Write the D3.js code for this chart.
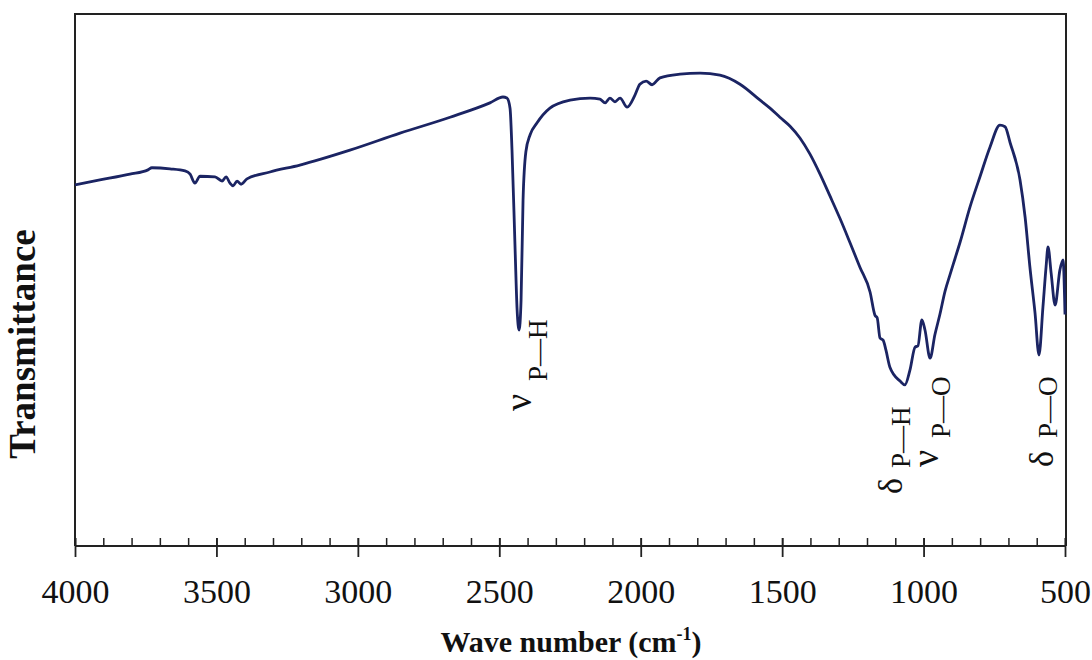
<!DOCTYPE html>
<html>
<head>
<meta charset="utf-8">
<script src="https://cdn.jsdelivr.net/npm/d3@7"></script>
<style>
  html, body { margin: 0; padding: 0; background: #fff; }
  svg { display: block; }
</style>
</head>
<body>
<svg id="chart" width="1092" height="660"></svg>
<script>
// ---- data (wavenumber cm-1, transmittance in arbitrary %) ----
const wavenumbers = [
  4000, 3912, 3806, 3742, 3728, 3664, 3611, 3593, 3576, 3558, 3505, 3480, 3466, 3452, 3441, 3427, 3413, 3392,
  3311, 3205, 3028, 2851, 2674, 2533, 2487, 2473, 2462, 2455, 2444, 2437, 2430, 2423, 2416, 2406, 2391, 2367,
  2321, 2250, 2179, 2144, 2126, 2109, 2091, 2073, 2048, 2020, 2003, 1981, 1960, 1932, 1861, 1790, 1720, 1649,
  1578, 1543, 1508, 1472, 1437, 1402, 1366, 1331, 1295, 1260, 1225, 1189, 1172, 1164, 1154, 1143, 1133, 1119, 1083, 1066,
  1048, 1030, 1020, 1006, 995, 977, 960, 942, 924, 907, 889, 871, 836, 800, 765, 730, 712, 694, 659, 641, 624, 606,
  592, 578, 567, 560, 549, 535, 518, 507, 500
];
const transmittance = [
  67.9, 68.8, 69.9, 70.7, 71.1, 70.9, 70.5, 69.9, 68.2, 69.5, 69.4, 68.6, 69.4, 68.2, 67.7, 68.6, 68.0, 69.0,
  70.3, 71.6, 74.4, 77.6, 80.6, 83.3, 84.4, 84.2, 82.3, 74.4, 55.6, 44.4, 40.6, 46.2, 65.0, 74.1, 77.3, 79.5,
  82.3, 83.8, 84.2, 84.0, 83.3, 84.2, 83.5, 84.2, 82.5, 84.8, 86.8, 87.4, 86.7, 88.0, 88.7, 88.9, 88.5, 86.8,
  83.8, 82.3, 80.6, 78.9, 76.7, 73.7, 69.9, 65.8, 61.5, 57.0, 52.4, 47.7, 43.4, 42.9, 39.1, 38.7, 36.8, 33.6, 31.0, 30.3,
  33.1, 37.4, 37.6, 42.5, 40.6, 35.3, 39.7, 43.6, 47.9, 50.9, 54.0, 57.1, 63.7, 69.5, 75.0, 79.1, 78.8, 75.8, 68.8, 61.8, 52.4, 43.8,
  35.9, 44.9, 52.4, 56.2, 51.3, 45.3, 51.9, 53.8, 43.5
];
const majorTicks = [4000, 3500, 3000, 2500, 2000, 1500, 1000, 500];
const minorTicks = d3.range(500, 4001, 100);

// band annotations: glyph, subscript, peak wavenumber
const bandGlyphs = ["ν", "δ", "ν", "δ"];
const bandSubs = ["P—H", "P—H", "P—O", "P—O"];
const bandPeaks = [2430, 1066, 977, 592];

// ---- layout ----
const mLeft = 75, mRight = 1065, mTop = 14, mBottom = 546;
const svg = d3.select("#chart");
const x = d3.scaleLinear().domain([4000, 500]).range([mLeft, mRight]);
const y = d3.scaleLinear().domain([0, 100]).range([mBottom, mTop]);
const serif = "'Liberation Serif', 'Times New Roman', serif";
const ink = "#222";

// frame (left, top, right)
svg.append("path")
  .attr("d", `M${mLeft},${mBottom} V${mTop} H${mRight + 1} V${mBottom}`)
  .attr("fill", "none").attr("stroke", ink).attr("stroke-width", 2);

// minor ticks (above axis)
const minorAxis = d3.axisTop(x).tickValues(minorTicks).tickSize(8).tickFormat("");
const gMinor = svg.append("g").attr("transform", `translate(0,${mBottom})`).call(minorAxis);
gMinor.select(".domain").remove();
gMinor.selectAll("line").attr("stroke", ink).attr("stroke-width", 1.5);

// major axis
const majorAxis = d3.axisBottom(x).tickValues(majorTicks).tickSize(10).tickFormat(d3.format("d"));
const gAxis = svg.append("g").attr("transform", `translate(0,${mBottom})`).call(majorAxis);
gAxis.select(".domain").attr("stroke", ink).attr("stroke-width", 2).attr("d", `M${mLeft},0H${mRight + 1}`);
gAxis.selectAll(".tick line").attr("stroke", ink).attr("stroke-width", 1.8).attr("y1", -8).attr("y2", 11);
gAxis.selectAll(".tick text")
  .attr("y", 57).attr("dy", 0)
  .attr("font-family", serif).attr("font-size", 34).attr("fill", "#111");

// spectrum line
const pts = wavenumbers.map((w, i) => [w, transmittance[i]]);
const line = d3.line().x(d => x(d[0])).y(d => y(d[1])).curve(d3.curveMonotoneX);
svg.append("path").datum(pts)
  .attr("d", line)
  .attr("fill", "none")
  .attr("stroke", "#1b2463")
  .attr("stroke-width", 2.8)
  .attr("stroke-linejoin", "round");

// axis titles
const xt = svg.append("text")
  .attr("x", (mLeft + mRight) / 2 + 1).attr("y", 652)
  .attr("text-anchor", "middle")
  .attr("font-family", serif).attr("font-weight", "bold").attr("font-size", 30).attr("fill", "#111");
xt.append("tspan").text("Wave number (cm");
xt.append("tspan").text("-1").attr("font-size", 18).attr("dy", -12);
xt.append("tspan").text(")").attr("dy", 12);

svg.append("text")
  .attr("transform", "translate(35,344) rotate(-90)")
  .attr("text-anchor", "middle")
  .attr("font-family", serif).attr("font-weight", "bold").attr("font-size", 37).attr("fill", "#111")
  .text("Transmittance");

// band labels (rotated); offsets relative to the peak position
const glyphDx = [12, -3, 8, 14];
const subDx = [28, 5, 20, 18];
const glyphBottom = [411, 494, 467, 467];
const subBottom = [381, 468, 438, 438];
bandGlyphs.forEach((g, i) => {
  const px = x(bandPeaks[i]);
  svg.append("text")
    .attr("transform", `translate(${px + glyphDx[i]},${glyphBottom[i]}) rotate(-90)`)
    .attr("font-family", serif).attr("font-size", g === "ν" ? 38 : 34).attr("fill", "#111")
    .text(g);
  svg.append("text")
    .attr("transform", `translate(${px + subDx[i]},${subBottom[i]}) rotate(-90)`)
    .attr("font-family", serif).attr("font-size", 27).attr("fill", "#111")
    .text(bandSubs[i]);
});
</script>
</body>
</html>
